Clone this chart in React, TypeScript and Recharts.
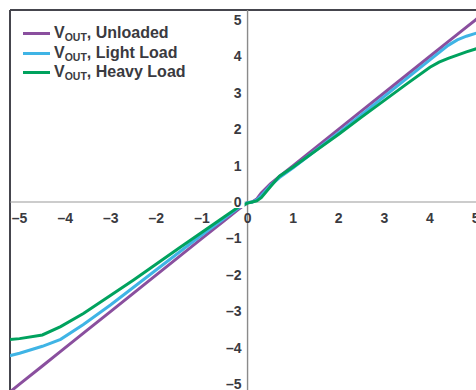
import React from 'react';
import {
    LineChart,
    Line,
    XAxis,
    YAxis,
    ReferenceLine,
    ReferenceDot,
    Legend
} from 'recharts';

// input voltage grid (V)
const vin = [-5.25, -5.0, -4.5, -4.1, -3.6, -3.0, -2.5, -2.0, -1.5, -1.0, -0.5, -0.2, 0, 0.1, 0.2, 0.3, 0.5, 0.7, 1.0, 1.5, 2.0, 2.5, 3.0, 3.5, 4.0, 4.2, 4.4, 4.6, 4.8, 5.0, 5.2];
const unloaded = [-5.25, -5.0, -4.5, -4.1, -3.6, -3.0, -2.5, -2.0, -1.5, -1.0, -0.5, -0.2, -0.02, 0.0, 0.08, 0.25, 0.5, 0.7, 1.0, 1.5, 2.0, 2.5, 3.0, 3.5, 4.0, 4.2, 4.4, 4.6, 4.8, 5.0, 5.2];
const lightLoad = [-4.23, -4.15, -3.96, -3.77, -3.36, -2.82, -2.34, -1.86, -1.38, -0.9, -0.44, -0.16, -0.02, 0.0, 0.05, 0.17, 0.45, 0.67, 0.94, 1.42, 1.9, 2.4, 2.9, 3.4, 3.9, 4.1, 4.3, 4.45, 4.55, 4.63, 4.7];
const heavyLoad = [-3.78, -3.75, -3.65, -3.42, -3.06, -2.56, -2.14, -1.7, -1.26, -0.83, -0.4, -0.14, -0.03, 0.0, 0.03, 0.12, 0.42, 0.71, 0.96, 1.41, 1.86, 2.33, 2.79, 3.25, 3.7, 3.84, 3.94, 4.03, 4.12, 4.2, 4.27];

const xTicks = [-5, -4, -3, -2, -1, 0, 1, 2, 3, 4, 5];
const yTicks = [-5, -4, -3, -2, -1, 0, 1, 2, 3, 4, 5];

const series = [
    { key: 'unloaded', name: 'Unloaded', color: '#8a4f9e' },
    { key: 'light', name: 'Light Load', color: '#3fb4e5' },
    { key: 'heavy', name: 'Heavy Load', color: '#00a25e' },
];

const data = vin.map((v, i) => ({
    vin: v,
    unloaded: unloaded[i],
    light: lightLoad[i],
    heavy: heavyLoad[i],
}));

const X_MIN = -5.21;
const X_MAX = 5.01;
const Y_MIN = -5.16;
const Y_MAX = 5.27;

const FONT = '"Liberation Sans", Arial, sans-serif';
const TEXT = '#3a3a40';

const fmt = (v: number) => (v < 0 ? '\u2013' + Math.abs(v) : String(v));

const XTickMark = (props: any) => {
    const { cx, cy, value } = props;
    return (
        <text x={cx} y={cy + 21} textAnchor="middle" fontFamily={FONT} fontWeight="bold" fontSize={14} fill={TEXT}>
            {fmt(value)}
        </text>
    );
};

const YTickMark = (props: any) => {
    const { cx, cy, value } = props;
    return (
        <g>
            {value === 0 && <rect x={cx - 16} y={cy - 8} width={13} height={14} fill="#fff" />}
            <text x={cx - 6} y={cy + 5} textAnchor="end" fontFamily={FONT} fontWeight="bold" fontSize={14} fill={TEXT}>
                {fmt(value)}
            </text>
        </g>
    );
};

const LegendBox = () => (
    <div style={{ fontFamily: FONT, fontWeight: 'bold', fontSize: 16, color: TEXT }}>
        {series.map(s => (
            <div key={s.key} style={{ display: 'flex', alignItems: 'center', height: 19.5 }}>
                <span style={{ display: 'inline-block', width: 27, height: 3, background: s.color, marginRight: 4 }} />
                <span>
                    V<sub style={{ fontSize: 10.5, verticalAlign: -3 }}>OUT</sub>, {s.name}
                </span>
            </div>
        ))}
    </div>
);

export default function App() {
    return (
        <div style={{ position: 'absolute', left: 0, top: 0, width: 476, height: 390, overflow: 'hidden', background: '#fff' }}>
            <LineChart width={476} height={390} data={data} margin={{ top: 10, left: 10, right: 0, bottom: 0 }}>
                <XAxis dataKey="vin" type="number" domain={[X_MIN, X_MAX]} allowDataOverflow hide />
                <YAxis type="number" domain={[Y_MIN, Y_MAX]} allowDataOverflow hide />
                <ReferenceLine x={X_MIN} stroke="#45454d" strokeWidth={2} />
                <ReferenceLine y={Y_MAX} stroke="#45454d" strokeWidth={2} />
                <ReferenceLine y={0} stroke="#9a9a9a" strokeWidth={1.2} />
                <ReferenceLine x={0} stroke="#8a8a8a" strokeWidth={1.4} />
                {series.map(s => (
                    <Line
                        key={s.key}
                        dataKey={s.key}
                        name={s.name}
                        stroke={s.color}
                        strokeWidth={3}
                        dot={false}
                        isAnimationActive={false}
                    />
                ))}
                {xTicks.map(t => (
                    <ReferenceDot key={'x' + t} x={t} y={0} r={0} shape={(p: any) => <XTickMark {...p} value={t} />} />
                ))}
                {yTicks.map(t => (
                    <ReferenceDot key={'y' + t} x={0} y={t} r={0} shape={(p: any) => <YTickMark {...p} value={t} />} />
                ))}
                <Legend
                    layout="horizontal"
                    verticalAlign="middle"
                    align="center"
                    content={() => <LegendBox />}
                    wrapperStyle={{ top: 24, left: 23, width: 220 }}
                />
            </LineChart>
        </div>
    );
}
